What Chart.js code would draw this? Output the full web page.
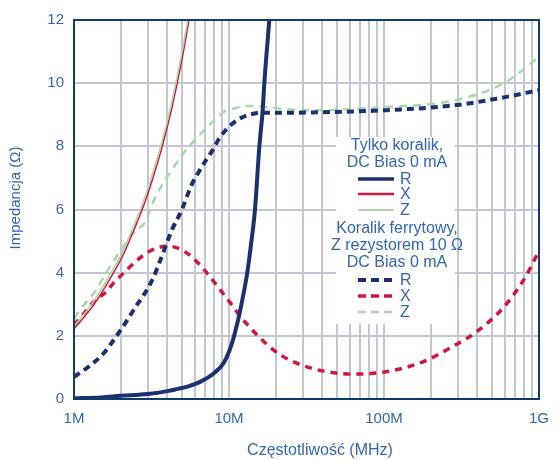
<!DOCTYPE html>
<html>
<head>
<meta charset="utf-8">
<script src="https://cdn.jsdelivr.net/npm/chart.js@4.4.1/dist/chart.umd.min.js"></script>
<style>
  html, body { margin: 0; padding: 0; background: #fff; }
  #wrap { width: 560px; height: 460px; }
</style>
</head>
<body>
<div id="wrap"><canvas id="impChart" width="560" height="460"></canvas></div>
<script>
// Częstotliwości w MHz, impedancje w omach

// sam koralik
const beadRFreq = [1, 1.5, 2, 3, 4, 4.67, 5.4, 6.56, 7.96, 9.22, 10.1, 10.9, 11.7, 13.1, 13.9, 14.7, 15.7, 16.5, 16.9, 18.2];
const beadRVal  = [0.02, 0.05, 0.1, 0.16, 0.25, 0.32, 0.39, 0.55, 0.81, 1.13, 1.55, 2.08, 2.71, 3.98, 4.93, 5.98, 8.0, 9.15, 10.0, 12];
const beadXFreq = [1, 1.34, 1.79, 2.07, 2.45, 2.9, 3.3, 3.7, 4.28, 4.95, 5.52];
const beadXVal  = [2.22, 2.98, 3.98, 4.55, 5.38, 6.3, 7.15, 7.98, 9.22, 10.7, 12];
const beadZFreq = [1, 1.32, 1.76, 2.04, 2.41, 2.86, 3.25, 3.65, 4.22, 4.88, 5.45];
const beadZVal  = [2.3, 3.05, 4.05, 4.62, 5.45, 6.37, 7.22, 8.05, 9.29, 10.77, 12.05];

// koralik z rezystorem 10 Ω
const ferRFreq = [1, 1.24, 1.55, 1.83, 2.07, 2.39, 3.2, 3.61, 4.28, 4.95, 5.73, 6.31, 7.13, 7.85, 8.65, 9.77, 11.3, 13.7, 16.6, 20.7, 32.4, 99, 286, 593, 1000];
const ferRVal  = [0.7, 1.02, 1.44, 1.91, 2.29, 2.77, 3.77, 4.4, 5.35, 5.98, 6.78, 7.15, 7.57, 7.88, 8.25, 8.57, 8.83, 9.01, 9.06, 9.06, 9.07, 9.14, 9.3, 9.55, 9.78];
const ferXFreq = [1, 1.16, 1.34, 1.62, 1.79, 2.07, 2.64, 3.2, 3.98, 4.72, 5.73, 6.95, 8.45, 10.25, 11.85, 20, 29.2, 44.5, 64, 99, 177, 286, 383, 593, 817, 1000];
const ferXVal  = [2.34, 2.71, 3.08, 3.4, 3.66, 3.97, 4.45, 4.72, 4.84, 4.77, 4.51, 4.08, 3.56, 3.03, 2.61, 1.5, 1.08, 0.85, 0.79, 0.85, 1.17, 1.7, 2.08, 2.91, 3.86, 4.7];
const ferZFreq = [1, 1.16, 1.34, 1.71, 2.07, 2.51, 2.84, 3.28, 3.7, 4.28, 5.08, 6.01, 6.95, 8.04, 9.3, 10.8, 13.1, 16.6, 20.7, 32.4, 99, 286, 593, 1000];
const ferZVal  = [2.55, 2.98, 3.35, 4.2, 4.82, 5.35, 5.56, 6.3, 6.78, 7.25, 7.78, 8.2, 8.52, 8.83, 9.1, 9.2, 9.28, 9.26, 9.2, 9.14, 9.24, 9.46, 10.0, 10.83];

// opisy osi
const xTickValues = [1, 10, 100, 1000];
const xTickLabels = ['1M', '10M', '100M', '1G'];
const yTickValues = [0, 2, 4, 6, 8, 10, 12];
const xTitle = 'Częstotliwość (MHz)';
const yTitle = 'Impedancja (Ω)';

const NAVY = '#1c2f6f';
const RED = '#d3163e';
const GREEN = '#a8d8a8';
const TEXT = '#3266b0';
const GRID = '#c3c6d5';
const FRAME = '#0f3d6b';
const FONT = '"Liberation Sans", Arial, sans-serif';

const pairs = (xs, ys) => xs.map((x, i) => ({ x: x, y: ys[i] }));

// linie siatki: 1..9 w każdej dekadzie
const gridValues = [];
for (let d = 1; d < 1000; d *= 10) {
  for (let k = 1; k <= 9; k++) gridValues.push(k * d);
}
gridValues.push(1000);

// legenda w białej ramce, ramka wykresu, tytuły osi
const legendBox = {
  id: 'legendBox',
  beforeDatasetsDraw(chart) {
    const ctx = chart.ctx;
    ctx.save();
    ctx.fillStyle = '#fff';
    ctx.fillRect(336, 137, 119, 187);
    ctx.fillStyle = TEXT;
    ctx.font = '16px ' + FONT;
    ctx.textAlign = 'center';
    ctx.textBaseline = 'middle';
    const cx = 397;
    ctx.fillText('Tylko koralik,', cx, 146);
    ctx.fillText('DC Bias 0 mA', cx, 163);
    ctx.fillText('Koralik ferrytowy,', cx, 229);
    ctx.fillText('Z rezystorem 10 Ω', cx, 246);
    ctx.fillText('DC Bias 0 mA', cx, 263);

    const rows = [
      { y: 179, c: NAVY, w: 3.5, dash: [], t: 'R' },
      { y: 194, c: RED, w: 2.5, dash: [], t: 'X' },
      { y: 210, c: GREEN, w: 2, dash: [], t: 'Z' },
      { y: 280, c: NAVY, w: 4, dash: [8, 5], t: 'R' },
      { y: 296, c: RED, w: 3.5, dash: [8, 5], t: 'X' },
      { y: 312, c: GREEN, w: 2.5, dash: [8, 5], t: 'Z' }
    ];
    ctx.textAlign = 'left';
    rows.forEach(r => {
      ctx.beginPath();
      ctx.setLineDash(r.dash);
      ctx.strokeStyle = r.c;
      ctx.lineWidth = r.w;
      ctx.moveTo(358, r.y);
      ctx.lineTo(394, r.y);
      ctx.stroke();
      ctx.fillStyle = TEXT;
      ctx.fillText(r.t, 400, r.y + 1);
    });
    ctx.restore();
  },
  afterDatasetsDraw(chart) {
    const a = chart.chartArea;
    const ctx = chart.ctx;
    ctx.save();
    ctx.strokeStyle = FRAME;
    ctx.lineWidth = 2;
    ctx.strokeRect(a.left, a.top, a.right - a.left, a.bottom - a.top);

    ctx.fillStyle = TEXT;
    ctx.textAlign = 'center';
    ctx.textBaseline = 'middle';
    ctx.font = '16px ' + FONT;
    ctx.fillText(xTitle, 320, 451);
    ctx.translate(16, 198);
    ctx.rotate(-Math.PI / 2);
    ctx.font = '15px ' + FONT;
    ctx.fillText(yTitle, 0, 0);
    ctx.restore();
  }
};

const line = (label, data, color, width, dash) => ({
  label: label,
  data: data,
  borderColor: color,
  borderWidth: width,
  borderDash: dash,
  pointRadius: 0,
  fill: false,
  cubicInterpolationMode: 'monotone'
});

new Chart(document.getElementById('impChart'), {
  type: 'line',
  data: {
    datasets: [
      line('R', pairs(beadRFreq, beadRVal), NAVY, 4, []),
      line('Z', pairs(beadZFreq, beadZVal), GREEN, 1.6, []),
      line('X', pairs(beadXFreq, beadXVal), RED, 1.5, []),
      line('R 10 Ω', pairs(ferRFreq, ferRVal), NAVY, 4, [7, 5]),
      line('X 10 Ω', pairs(ferXFreq, ferXVal), RED, 3.5, [7, 6]),
      line('Z 10 Ω', pairs(ferZFreq, ferZVal), GREEN, 2.5, [8, 6])
    ]
  },
  options: {
    responsive: false,
    animation: false,
    layout: { padding: { top: 20, right: 11, left: 0, bottom: 0 } },
    plugins: {
      legend: { display: false },
      tooltip: { enabled: false }
    },
    scales: {
      x: {
        type: 'logarithmic',
        min: 1,
        max: 1000,
        afterBuildTicks: (scale) => {
          scale.ticks = gridValues.map(v => ({ value: v }));
        },
        afterFit: (scale) => { scale.height = 61; },
        grid: { color: GRID, lineWidth: 2, drawTicks: false },
        border: { display: false },
        ticks: {
          autoSkip: false,
          maxRotation: 0,
          padding: 11,
          color: TEXT,
          font: { family: FONT, size: 15 },
          callback: (v) => {
            const i = xTickValues.indexOf(v);
            return i >= 0 ? xTickLabels[i] : '';
          }
        }
      },
      y: {
        min: 0,
        max: 12,
        afterBuildTicks: (scale) => {
          scale.ticks = yTickValues.map(v => ({ value: v }));
        },
        afterFit: (scale) => { scale.width = 74; },
        grid: { color: GRID, lineWidth: 2, drawTicks: false },
        border: { display: false },
        ticks: {
          padding: 10,
          color: TEXT,
          font: { family: FONT, size: 15 }
        }
      }
    }
  },
  plugins: [legendBox]
});
</script>
</body>
</html>
